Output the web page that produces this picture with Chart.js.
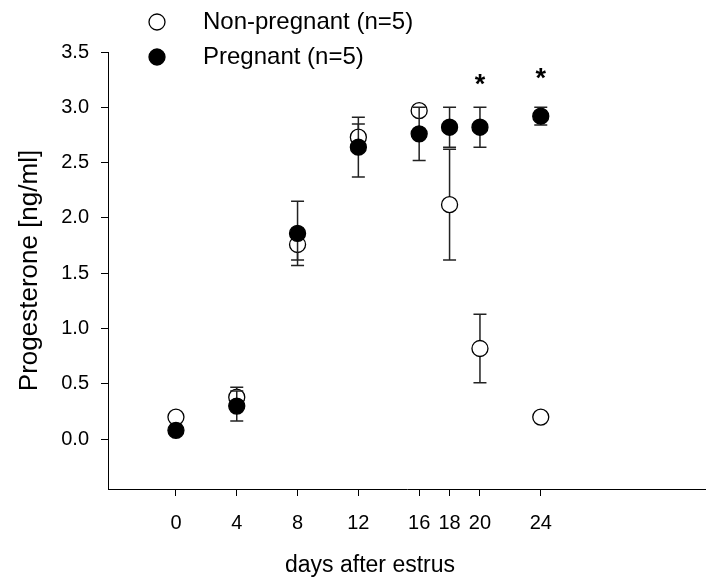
<!DOCTYPE html>
<html>
<head>
<meta charset="utf-8">
<script src="https://cdn.jsdelivr.net/npm/chart.js@4"></script>
<style>
html, body { margin: 0; padding: 0; background: #fff; }
#wrap { width: 706px; height: 581px; }
</style>
</head>
<body>
<div id="wrap"><canvas id="progChart" width="706" height="581"></canvas></div>
<script>
// progesterone, mean and error per sampling day
const days = [0, 4, 8, 12, 16, 18, 20, 24];
const nonPregMean = [0.20, 0.38, 1.76, 2.73, 2.97, 2.12, 0.82, 0.20];
const nonPregErr  = [0.02, 0.09, 0.14, 0.12, 0.03, 0.50, 0.31, 0.02];
const pregMean    = [0.08, 0.30, 1.86, 2.64, 2.76, 2.82, 2.82, 2.92];
const pregErr     = [0.02, 0.135, 0.29, 0.27, 0.24, 0.18, 0.18, 0.08];
const seriesNames = ['Non-pregnant (n=5)', 'Pregnant (n=5)'];
const xTicks = [0, 4, 8, 12, 16, 18, 20, 24];
const yTicks = [0, 0.5, 1, 1.5, 2, 2.5, 3, 3.5];
const sigDays = [20, 24];
const sigLevel = [3.24, 3.29];

const FONT = "'Liberation Sans', Arial, sans-serif";
Chart.defaults.font.family = FONT;
Chart.defaults.color = '#000';

const errorBars = {
    id: 'errorBars',
    beforeDatasetDraw(chart, args) {
        const ds = chart.data.datasets[args.index];
        const xs = chart.scales.x, ys = chart.scales.y;
        const c = chart.ctx;
        c.save();
        c.strokeStyle = '#222';
        c.lineWidth = 1.5;
        ds.data.forEach((p, i) => {
            const e = ds.errors[i];
            const x = xs.getPixelForValue(p.x);
            const top = ys.getPixelForValue(p.y + e);
            const bot = ys.getPixelForValue(p.y - e);
            c.beginPath();
            c.moveTo(x, top); c.lineTo(x, bot);
            c.moveTo(x - 6.5, top); c.lineTo(x + 6.5, top);
            c.moveTo(x - 6.5, bot); c.lineTo(x + 6.5, bot);
            c.stroke();
        });
        c.restore();
    }
};

// stars, legend and the x title
const extras = {
    id: 'extras',
    afterDraw(chart) {
        const xs = chart.scales.x, ys = chart.scales.y;
        const c = chart.ctx;
        c.save();
        c.fillStyle = '#000';
        c.font = 'bold 27px ' + FONT;
        c.textAlign = 'center';
        c.textBaseline = 'alphabetic';
        sigDays.forEach((d, i) => {
            c.fillText('*', xs.getPixelForValue(d), ys.getPixelForValue(sigLevel[i]) + 12);
        });

        const rows = [22, 57];
        chart.data.datasets.forEach((ds, i) => {
            c.beginPath();
            c.arc(157, rows[i], 8, 0, Math.PI * 2);
            c.fillStyle = ds.backgroundColor;
            c.fill();
            c.lineWidth = ds.borderWidth;
            c.strokeStyle = ds.borderColor;
            c.stroke();
            c.fillStyle = '#000';
            c.font = '24px ' + FONT;
            c.textAlign = 'left';
            c.textBaseline = 'middle';
            c.fillText(ds.label, 203, rows[i]);
        });

        c.font = '23px ' + FONT;
        c.textAlign = 'center';
        c.textBaseline = 'middle';
        c.fillText('days after estrus', 370, 566);
        c.restore();
    }
};

new Chart(document.getElementById('progChart'), {
    type: 'scatter',
    data: {
        datasets: [{
            label: seriesNames[0],
            data: days.map((d, i) => ({x: d, y: nonPregMean[i]})),
            errors: nonPregErr,
            backgroundColor: '#fff',
            borderColor: '#000',
            borderWidth: 1.3,
            pointRadius: 8,
            order: 2
        }, {
            label: seriesNames[1],
            data: days.map((d, i) => ({x: d, y: pregMean[i]})),
            errors: pregErr,
            backgroundColor: '#000',
            borderColor: '#000',
            borderWidth: 1.3,
            pointRadius: 8,
            order: 1
        }]
    },
    options: {
        responsive: false,
        animation: false,
        layout: { autoPadding: false, padding: { top: 52, left: 0, right: 0, bottom: 0 } },
        plugins: {
            legend: { display: false },
            tooltip: { enabled: false }
        },
        scales: {
            x: {
                type: 'linear',
                min: -4.47,
                max: 34.87,
                afterBuildTicks: s => { s.ticks = xTicks.map(v => ({value: v})); },
                afterFit: s => { s.height = 92; },
                grid: { drawOnChartArea: false, tickLength: 7, color: '#000' },
                border: { color: '#000', width: 1 },
                ticks: { font: { size: 20 }, padding: 15, maxRotation: 0, callback: v => String(v) }
            },
            y: {
                min: -0.45,
                max: 3.5,
                afterBuildTicks: s => { s.ticks = yTicks.map(v => ({value: v})); },
                afterFit: s => { s.width = 108; },
                grid: { drawOnChartArea: false, tickLength: 7, color: '#000' },
                border: { color: '#000', width: 1 },
                ticks: { font: { size: 20 }, padding: 12, callback: v => v.toFixed(1) },
                title: {
                    display: true,
                    text: 'Progesterone [ng/ml]',
                    font: { size: 26 },
                    padding: { top: 14, bottom: 0 }
                }
            }
        }
    },
    plugins: [errorBars, extras]
});
</script>
</body>
</html>
